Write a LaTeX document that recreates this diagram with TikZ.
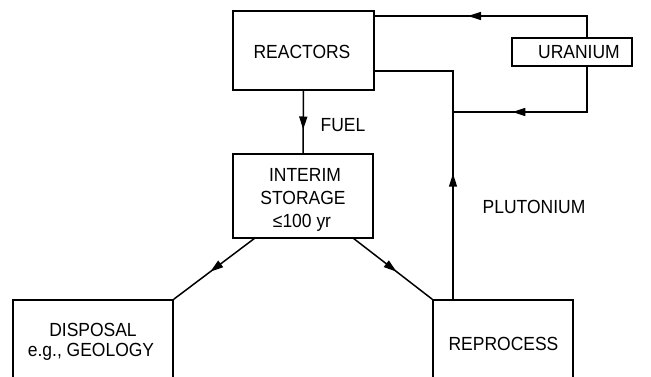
\documentclass[tikz,border=0pt]{standalone}
\usepackage{fontspec}
\setmainfont{Liberation Sans}[FakeStretch=0.92]
\usetikzlibrary{arrows.meta,decorations.markings,calc}
\begin{document}
\begin{tikzpicture}[x=1pt,y=-1pt,
  box/.style={draw, line width=1.5pt, inner sep=0pt},
  lbl/.style={font=\fontsize{19}{22.5}\selectfont, inner sep=0pt, anchor=base},
  flow/.style={line width=1.5pt},
  midarrow/.style={postaction={decorate}, decoration={markings,
     mark=at position #1 with {\arrow{Triangle[length=13pt,width=8pt]}}}}
]
\useasboundingbox (0,0) rectangle (651,377);
% boxes
\node[box, minimum width=141pt, minimum height=79pt] (reactors) at (303.5,50.5) {};
\node[box, minimum width=120pt, minimum height=28pt] (uranium) at (572,52) {};
\node[box, minimum width=140pt, minimum height=84pt] (interim) at (303,196) {};
\node[box, minimum width=160pt, minimum height=120pt] (disposal) at (93,360) {};
\node[box, minimum width=140pt, minimum height=120pt] (reprocess) at (503,360) {};
% texts
\node[lbl] (tReactors) at (302,59) {REACTORS};
\node[lbl] (tUranium) at (579,59) {URANIUM};
\node[lbl] (tFuel) at (343,132) {FUEL};
\node[lbl] (tInterim) at (305,182) {INTERIM};
\node[lbl] (tStorage) at (303,204.5) {STORAGE};
\node[lbl] (tYears) at (302,227) {≤100 yr};
\node[lbl] (tPlutonium) at (534,214) {PLUTONIUM};
\node[lbl] (tDisposal) at (93,336) {DISPOSAL};
\node[lbl] (tGeology) at (91,356) {e.g., GEOLOGY};
\node[lbl] (tReprocess) at (503.5,350) {REPROCESS};
% helper coordinates
\coordinate (uTop) at (587,38);
\coordinate (uBot) at (587,66);
\coordinate (rTop) at (374,16);
\coordinate (rLow) at (374,71);
\coordinate (join) at (453,112);
\coordinate (pTop) at (453,300);
\coordinate (iL) at (255,238);
\coordinate (iR) at (353,238);
% connectors
\draw[flow, midarrow=0.6] (uTop) |- (rTop);
\draw[flow, midarrow=0.67] (uBot) |- (join);
\draw[flow, midarrow=0.41] (pTop) |- (rLow);
\draw[flow, midarrow=0.62] (reactors.south) -- (interim.north);
\draw[flow, midarrow=0.55] (iL) -- (disposal.north east);
\draw[flow, midarrow=0.55] (iR) -- (reprocess.north west);
\end{tikzpicture}
\end{document}
